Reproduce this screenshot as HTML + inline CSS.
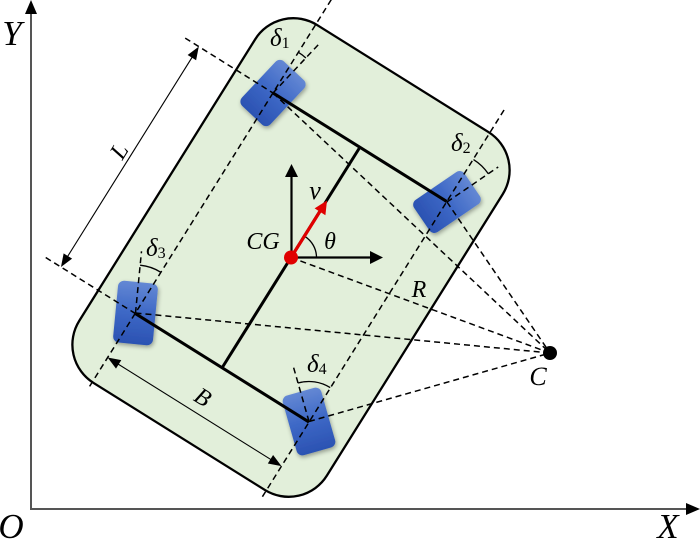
<!DOCTYPE html>
<html>
<head>
<meta charset="utf-8">
<style>
html,body{margin:0;padding:0;background:#fff;}
svg{display:block;}
text{font-family:"Liberation Serif",serif;font-style:italic;fill:#000;}
</style>
</head>
<body>
<svg width="700" height="540" viewBox="0 0 700 540" xmlns="http://www.w3.org/2000/svg">
<defs>
  <linearGradient id="wg" x1="0" y1="0" x2="0" y2="1">
    <stop offset="0" stop-color="#6488d4"/>
    <stop offset="0.5" stop-color="#3d68c6"/>
    <stop offset="1" stop-color="#2b52b2"/>
  </linearGradient>
  <filter id="sh" x="-30%" y="-30%" width="160%" height="160%">
    <feDropShadow dx="1" dy="2" stdDeviation="2" flood-color="#000" flood-opacity="0.35"/>
  </filter>
</defs>

<!-- Axes -->
<line x1="31" y1="510" x2="31" y2="12" stroke="#555" stroke-width="2"/>
<polygon points="31,0 25,14 37,14" fill="#000"/>
<line x1="30" y1="509" x2="688" y2="509" stroke="#555" stroke-width="2"/>
<polygon points="700,509 686,503 686,515" fill="#000"/>

<!-- Car body (local frame) -->
<g transform="translate(291,257.5) rotate(32)">
  <rect x="-146" y="-211" width="292" height="422" rx="45" ry="45" fill="#e2efda" stroke="#000" stroke-width="2.3"/>
</g>

<!-- Wheels -->
<g fill="url(#wg)" filter="url(#sh)">
  <rect x="-19.5" y="-30.5" width="39" height="61" rx="6" transform="translate(273,93) rotate(43.2)"/>
  <rect x="-19.5" y="-30.5" width="39" height="61" rx="6" transform="translate(447,202) rotate(55.7)"/>
  <rect x="-20" y="-31" width="40" height="62" rx="6" transform="translate(135.5,313) rotate(5.5)"/>
  <rect x="-20" y="-31" width="40" height="62" rx="6" transform="translate(309,421.5) rotate(-15.9)"/>
</g>

<!-- Local-frame lines -->
<g transform="translate(291,257.5) rotate(32)">
  <g stroke="#000" stroke-width="1.5" stroke-dasharray="6 4" fill="none">
    <line x1="-102.5" y1="-240" x2="-102.5" y2="220"/>
    <line x1="102.5" y1="-238" x2="102.5" y2="220"/>
    <line x1="-206" y1="-130" x2="-102.5" y2="-130"/>
    <line x1="-208" y1="130" x2="-102.5" y2="130"/>
  </g>
  <!-- axles and center line -->
  <g stroke="#000" stroke-width="3" fill="none">
    <line x1="-102.5" y1="-130" x2="102.5" y2="-130"/>
    <line x1="-102.5" y1="130" x2="102.5" y2="130"/>
    <line x1="0" y1="-130" x2="0" y2="130"/>
  </g>
  <!-- L dimension -->
  <line x1="-190" y1="-119" x2="-190" y2="119" stroke="#000" stroke-width="1.1"/>
  <polygon points="-190,-130 -195,-117 -185,-117" fill="#000"/>
  <polygon points="-190,130 -195,117 -185,117" fill="#000"/>
  <!-- B dimension -->
  <line x1="-91" y1="182" x2="91" y2="182" stroke="#000" stroke-width="1.1"/>
  <polygon points="-102.5,182 -89.5,177 -89.5,187" fill="#000"/>
  <polygon points="102.5,182 89.5,177 89.5,187" fill="#000"/>
</g>

<!-- Lines to ICR C and steering lines -->
<g stroke="#000" stroke-width="1.5" stroke-dasharray="6 4" fill="none">
  <line x1="273" y1="93" x2="550" y2="353"/>
  <line x1="447" y1="202" x2="550" y2="353"/>
  <line x1="135.5" y1="313" x2="550" y2="353"/>
  <line x1="309" y1="421.5" x2="550" y2="353"/>
  <line x1="291" y1="257.5" x2="550" y2="353"/>
  <line x1="273" y1="93" x2="319.5" y2="43.4"/>
  <line x1="447" y1="202" x2="498.2" y2="167"/>
  <line x1="135.5" y1="313" x2="141.5" y2="251.3"/>
  <line x1="309" y1="421.5" x2="292.6" y2="364"/>
</g>

<!-- Steering angle arcs -->
<g stroke="#000" stroke-width="1.3" fill="none">
  <path d="M298.4,52.3 A48,48 0 0 1 305.9,58"/>
  <path d="M473.5,159.6 A50,50 0 0 1 488.3,173.8"/>
  <path d="M140.1,265.2 A48,48 0 0 1 160.9,272.3"/>
  <path d="M298,383 A40,40 0 0 1 330.2,387.6"/>
</g>

<!-- CG frame arrows -->
<line x1="291.5" y1="257.5" x2="291.5" y2="175" stroke="#000" stroke-width="2.2"/>
<polygon points="291.5,164 285,177 298,177" fill="#000"/>
<line x1="291.5" y1="257.5" x2="372" y2="257.5" stroke="#000" stroke-width="2.2"/>
<polygon points="383,257.5 370,251 370,264" fill="#000"/>
<!-- theta arc -->
<path d="M316.5,257.5 A25,25 0 0 0 304.7,236.3" stroke="#000" stroke-width="1.3" fill="none"/>
<!-- velocity -->
<line x1="291" y1="257.5" x2="320.5" y2="210.5" stroke="#e00000" stroke-width="3.2"/>
<polygon points="327,200.5 325.4,215.2 314.6,208.4" fill="#e00000"/>
<circle cx="291" cy="257.5" r="7" fill="#e00000"/>

<!-- ICR -->
<circle cx="550" cy="353" r="7" fill="#000"/>

<!-- Labels -->
<text x="12" y="45" font-size="35" text-anchor="middle">Y</text>
<text x="11" y="538" font-size="35" text-anchor="middle">O</text>
<text x="668" y="538" font-size="35" text-anchor="middle">X</text>
<text x="263" y="249" font-size="24" text-anchor="middle">CG</text>
<text x="315" y="199" font-size="26" text-anchor="middle">v</text>
<text x="330" y="249" font-size="24" text-anchor="middle">θ</text>
<text x="538" y="385" font-size="26" text-anchor="middle">C</text>
<text x="419" y="297" font-size="24" text-anchor="middle">R</text>
<text transform="translate(119,151) rotate(-58)" x="0" y="8" font-size="24" text-anchor="middle">L</text>
<text transform="translate(203,397) rotate(32)" x="0" y="8" font-size="24" text-anchor="middle">B</text>

<text x="270" y="46" font-size="25">δ<tspan font-size="16" font-style="normal" dy="2">1</tspan></text>
<text x="451" y="151" font-size="25">δ<tspan font-size="16" font-style="normal" dy="2">2</tspan></text>
<text x="146" y="256" font-size="25">δ<tspan font-size="16" font-style="normal" dy="2">3</tspan></text>
<text x="307" y="372" font-size="25">δ<tspan font-size="16" font-style="normal" dy="2">4</tspan></text>
</svg>
</body>
</html>
